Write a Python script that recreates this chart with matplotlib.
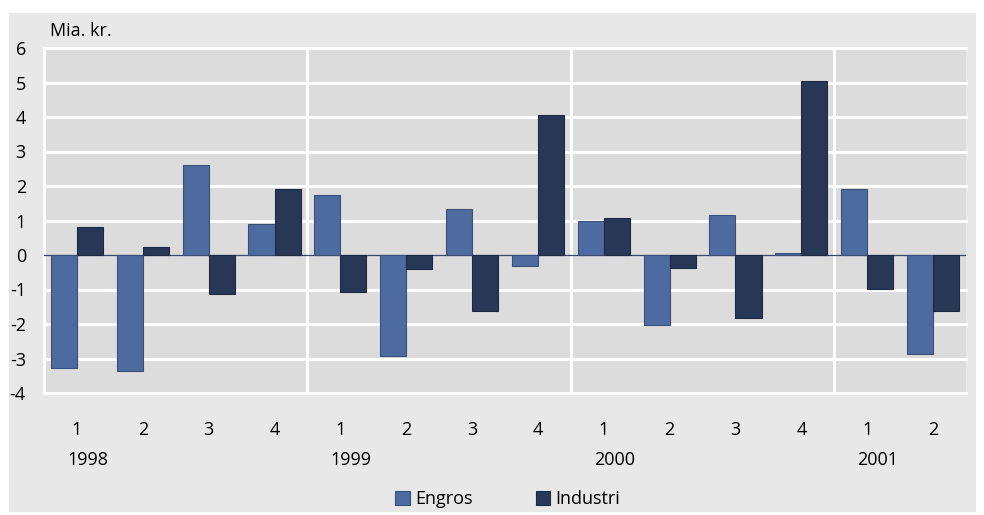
import matplotlib
matplotlib.use("Agg")
import matplotlib.pyplot as plt
from matplotlib.patches import Rectangle, Patch
import numpy as np

plt.rcParams['font.family'] = ['Open Sans', 'DejaVu Sans']

quarters = ["1", "2", "3", "4", "1", "2", "3", "4", "1", "2", "3", "4", "1", "2"]
years = ["1998", "1999", "2000", "2001"]
engros = [-3.28, -3.35, 2.62, 0.90, 1.75, -2.92, 1.34, -0.33, 0.98, -2.04, 1.17, 0.05, 1.90, -2.88]
industri = [0.80, 0.22, -1.13, 1.91, -1.06, -0.41, -1.63, 4.05, 1.07, -0.37, -1.83, 5.04, -0.99, -1.61]
yticks = [-4, -3, -2, -1, 0, 1, 2, 3, 4, 5, 6]
series_names = ["Engros", "Industri"]
unit_label = "Mia. kr."

c_engros = "#4e6ba0"
c_industri = "#283756"
plot_bg = "#dcdcdc"
panel_bg = "#e8e8e8"

W, H = 984, 515
fig = plt.figure(figsize=(W / 100, H / 100), dpi=100, facecolor="white")
fig.patches.append(Rectangle((9 / W, 3 / H), (976 - 9) / W, (512 - 13) / H,
                             transform=fig.transFigure, facecolor=panel_bg,
                             edgecolor="none", zorder=-10))

ax = fig.add_axes([44 / W, 1 - 393 / H, (966 - 44) / W, (393 - 48) / H])
ax.set_zorder(1)
ax.set_facecolor(plot_bg)

n = len(quarters)
x = np.arange(n)
bw = 0.395
ax.bar(x - bw / 2, engros, width=bw, color=c_engros, edgecolor="#3a5078",
       linewidth=0.8, zorder=3, label=series_names[0])
ax.bar(x + bw / 2, industri, width=bw, color=c_industri, edgecolor="#1e2a44",
       linewidth=0.8, zorder=3, label=series_names[1])

ax.set_xlim(-0.5, n - 0.5)
ax.set_ylim(yticks[0], yticks[-1])

for v in yticks:
    if v != 0:
        ax.axhline(v, color="white", lw=2.2, zorder=1, clip_on=False)
ax.axhline(0, color="#3a4a68", lw=0.9, zorder=2)
for k in range(1, len(years)):
    ax.axvline(4 * k - 0.5, color="white", lw=2.2, zorder=1)
ax.axvline(-0.5, color="white", lw=2.2, zorder=1, clip_on=False)

for s in ax.spines.values():
    s.set_visible(False)

ax.set_yticks(yticks)
ax.set_yticklabels([str(v) for v in yticks], fontsize=13)
ax.tick_params(axis="y", length=0, pad=13)
ax.set_xticks([])

tr = ax.get_xaxis_transform()
for i, q in enumerate(quarters):
    ax.text(i, -0.107, q, transform=tr, ha="center", va="center", fontsize=13)
for k, yr in enumerate(years):
    ax.text(4 * k + 0.16, -0.193, yr, transform=tr, ha="center", va="center", fontsize=13)

fig.text(50 / W, 1 - 30.5 / H, unit_label, ha="left", va="center", fontsize=13)

handles = [Patch(facecolor=c_engros, edgecolor="#3a5078", linewidth=0.8),
           Patch(facecolor=c_industri, edgecolor="#1e2a44", linewidth=0.8)]
fig.legend(handles, series_names, loc="center", bbox_to_anchor=(0.516, 1 - 499 / H),
           bbox_transform=fig.transFigure, ncol=2, frameon=False, fontsize=13,
           handlelength=0.8, handleheight=0.8, handletextpad=0.3, columnspacing=3.5)

fig.savefig("out.png", dpi=100, facecolor="white")
